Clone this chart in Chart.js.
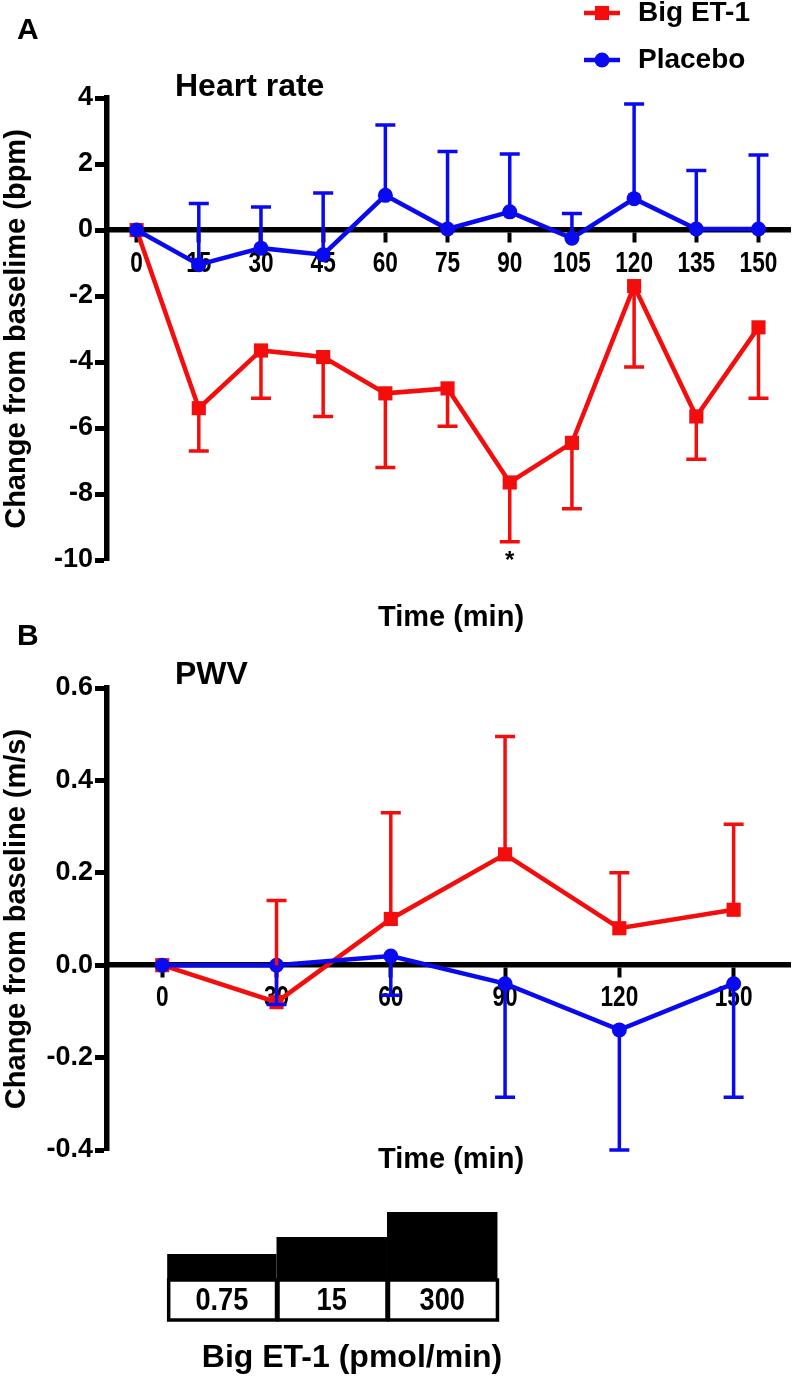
<!DOCTYPE html>
<html>
<head>
<meta charset="utf-8">
<script src="https://cdn.jsdelivr.net/npm/chart.js@4.4.1/dist/chart.umd.min.js"></script>
<style>
  body { margin: 0; background: #fff; }
  #wrap { position: relative; width: 800px; height: 1376px; }
  #wrap canvas { position: absolute; left: 0; }
</style>
</head>
<body>
<div id="wrap">
  <canvas id="hrChart" width="800" height="650" style="top:0"></canvas>
  <canvas id="pwvChart" width="800" height="751" style="top:625px"></canvas>
</div>
<script>
// Panel A - heart rate, every 15 min
const hrTimes = [0, 15, 30, 45, 60, 75, 90, 105, 120, 135, 150];
const hrBigEt1 = [0, -5.4, -3.65, -3.85, -4.95, -4.8, -7.65, -6.45, -1.7, -5.65, -2.95];
const hrBigEt1Err = [0, 1.3, 1.45, 1.8, 2.25, 1.15, 1.8, 2.0, 2.45, 1.3, 2.15];   // drawn downwards
const hrPlacebo = [0, -1.05, -0.55, -0.75, 1.05, 0.03, 0.55, -0.25, 0.95, 0.03, 0.03];
const hrPlaceboErr = [0, 1.85, 1.25, 1.87, 2.13, 2.35, 1.75, 0.75, 2.87, 1.77, 2.24]; // drawn upwards
const hrSignificant = [90];  // * under Big ET-1
const hrYTicks = [-10, -8, -6, -4, -2, 0, 2, 4];

// Panel B - PWV, every 30 min
const pwvTimes = [0, 30, 60, 90, 120, 150];
const pwvBigEt1 = [0, -0.08, 0.10, 0.24, 0.08, 0.12];
const pwvBigEt1Err = [0, 0.22, 0.23, 0.255, 0.12, 0.185];  // drawn upwards
const pwvPlacebo = [0, 0, 0.02, -0.04, -0.14, -0.04];
const pwvPlaceboErr = [0, 0.085, 0.085, 0.246, 0.26, 0.246]; // drawn downwards
const pwvYTicks = [-0.4, -0.2, 0, 0.2, 0.4, 0.6];

// infusion steps (Big ET-1 pmol/min)
const doseLabels = ["0.75", "15", "300"];
const doseStart = [1.3, 30, 59];
const doseEnd = [30, 59, 88];

const RED = "#f40d0d";
const BLUE = "#0a0af0";
const FONT = "'Liberation Sans', Arial, Helvetica, sans-serif";

Chart.defaults.font.family = FONT;
Chart.defaults.color = "#000";

function toPoints(times, values) {
    return times.map((t, i) => ({ x: t, y: values[i] }));
}

// one-sided SEM bars with a flat cap
const errorBars = {
    id: "errorBars",
    afterDatasetsDraw(chart) {
        const ctx = chart.ctx;
        const yScale = chart.scales.y;
        chart.data.datasets.forEach((ds, i) => {
            const meta = chart.getDatasetMeta(i);
            ctx.save();
            ctx.strokeStyle = ds.borderColor;
            ctx.lineWidth = 3.5;
            meta.data.forEach((pt, j) => {
                const err = ds.errors[j];
                if (!err) return;
                const end = yScale.getPixelForValue(ds.data[j].y + ds.errDir * err);
                ctx.beginPath();
                ctx.moveTo(pt.x, pt.y);
                ctx.lineTo(pt.x, end);
                ctx.moveTo(pt.x - 10, end);
                ctx.lineTo(pt.x + 10, end);
                ctx.stroke();
                if (ds.sig && ds.sig.includes(ds.data[j].x)) {
                    ctx.fillStyle = "#000";
                    ctx.font = "bold 24px " + FONT;
                    ctx.textAlign = "center";
                    ctx.textBaseline = "top";
                    ctx.fillText("*", pt.x, end + 8);
                }
            });
            ctx.restore();
        });
    }
};

// time tick labels under the zero line, a little condensed like the original
const squeezedTicks = {
    id: "squeezedTicks",
    beforeDatasetsDraw(chart, args, opts) {
        const ctx = chart.ctx;
        const xs = chart.scales.x;
        const y0 = chart.scales.y.getPixelForValue(0) + opts.offset;
        ctx.save();
        ctx.fillStyle = "#000";
        ctx.font = "bold " + opts.size + "px " + FONT;
        ctx.textAlign = "center";
        ctx.textBaseline = "middle";
        xs.ticks.forEach(t => {
            ctx.save();
            ctx.translate(xs.getPixelForValue(t.value), y0);
            ctx.scale(opts.squeeze, 1);
            ctx.fillText(String(t.value), 0, 0);
            ctx.restore();
        });
        ctx.restore();
    }
};

// free text: panel letters, titles, axis names
const panelText = {
    id: "panelText",
    afterDraw(chart, args, opts) {
        const ctx = chart.ctx;
        (opts.items || []).forEach(item => {
            ctx.save();
            ctx.fillStyle = "#000";
            ctx.font = "bold " + item.size + "px " + FONT;
            ctx.textAlign = item.align || "left";
            ctx.textBaseline = "middle";
            ctx.fillText(item.text, item.x, item.y);
            ctx.restore();
        });
    }
};

// stacked legend in the top right corner
const stackLegend = {
    id: "stackLegend",
    afterDraw(chart, args, opts) {
        if (!opts.show) return;
        const ctx = chart.ctx;
        chart.data.datasets.forEach((ds, i) => {
            const y = opts.y + i * opts.gap;
            ctx.save();
            ctx.strokeStyle = ds.borderColor;
            ctx.fillStyle = ds.borderColor;
            ctx.lineWidth = 4.5;
            ctx.beginPath();
            ctx.moveTo(opts.x, y);
            ctx.lineTo(opts.x + 36, y);
            ctx.stroke();
            Chart.helpers.drawPoint(ctx, { pointStyle: ds.pointStyle, radius: ds.pointRadius, rotation: 0, borderWidth: 0 }, opts.x + 18, y);
            ctx.fillStyle = "#000";
            ctx.font = "bold 28px " + FONT;
            ctx.textBaseline = "middle";
            ctx.fillText(ds.label, opts.x + 54, y);
            ctx.restore();
        });
    }
};

// dose staircase under panel B, placed with the time axis
const doseSteps = {
    id: "doseSteps",
    afterDraw(chart, args, opts) {
        if (!opts.show) return;
        const ctx = chart.ctx;
        const x = chart.scales.x;
        ctx.save();
        doseLabels.forEach((lab, i) => {
            const x0 = x.getPixelForValue(doseStart[i]);
            const x1 = x.getPixelForValue(doseEnd[i]);
            ctx.fillStyle = "#000";
            ctx.fillRect(x0, opts.base - opts.heights[i], x1 - x0, opts.heights[i]);
            ctx.lineWidth = 3.5;
            ctx.strokeStyle = "#000";
            ctx.strokeRect(x0 + 1.5, opts.base, x1 - x0 - 1.5, opts.boxH);
            ctx.save();
            ctx.translate((x0 + x1) / 2, opts.base + opts.boxH / 2 + 1);
            ctx.scale(0.85, 1);
            ctx.font = "bold 32px " + FONT;
            ctx.textAlign = "center";
            ctx.textBaseline = "middle";
            ctx.fillText(lab, 0, 0);
            ctx.restore();
        });
        ctx.restore();
    }
};

function makeConfig(p) {
    return {
        type: "line",
        data: {
            datasets: [
                {
                    label: "Big ET-1",
                    data: toPoints(p.times, p.et1),
                    errors: p.et1Err,
                    errDir: p.et1Dir,
                    sig: p.sig,
                    borderColor: RED,
                    backgroundColor: RED,
                    pointBackgroundColor: RED,
                    pointStyle: "rect",
                    pointRadius: 10,
                    pointBorderWidth: 0,
                    borderWidth: 4.5,
                    tension: 0,
                    order: 2,
                },
                {
                    label: "Placebo",
                    data: toPoints(p.times, p.plac),
                    errors: p.placErr,
                    errDir: p.placDir,
                    borderColor: BLUE,
                    backgroundColor: BLUE,
                    pointBackgroundColor: BLUE,
                    pointStyle: "circle",
                    pointRadius: 7.5,
                    pointBorderWidth: 0,
                    borderWidth: 4.5,
                    tension: 0,
                    order: 1,
                },
            ],
        },
        options: {
            responsive: false,
            animation: false,
            events: [],
            layout: { padding: p.padding },
            scales: {
                x: {
                    type: "linear",
                    position: { y: 0 },
                    min: p.xMin,
                    max: p.xMax,
                    afterBuildTicks: s => { s.ticks = p.times.map(v => ({ value: v })); },
                    border: { display: true, color: "#000", width: 5.5 },
                    grid: { drawOnChartArea: false, drawTicks: true, tickLength: 10, tickWidth: 4, tickColor: "#000" },
                    ticks: { display: false },
                },
                y: {
                    min: p.yTicks[0],
                    max: p.yTicks[p.yTicks.length - 1],
                    afterBuildTicks: s => { s.ticks = p.yTicks.map(v => ({ value: v })); },
                    afterFit: s => { s.width = 107; },
                    border: { display: true, color: "#000", width: 5.5 },
                    grid: { drawOnChartArea: false, drawTicks: true, tickLength: 12, tickWidth: 5, tickColor: "#000" },
                    ticks: { font: { size: 27, weight: "bold" }, color: "#000", padding: 2, callback: p.fmt },
                    title: { display: true, text: p.yTitle, font: { size: 29, weight: "bold" }, color: "#000", padding: 0 },
                },
            },
            plugins: {
                legend: { display: false },
                tooltip: { enabled: false },
                squeezedTicks: { size: 29, squeeze: 0.78, offset: p.tickOffset },
                panelText: { items: p.text },
                stackLegend: p.legend,
                doseSteps: p.doses,
            },
        },
        plugins: [squeezedTicks, errorBars, panelText, stackLegend, doseSteps],
    };
}

new Chart(document.getElementById("hrChart"), makeConfig({
    times: hrTimes,
    et1: hrBigEt1, et1Err: hrBigEt1Err, et1Dir: -1,
    plac: hrPlacebo, placErr: hrPlaceboErr, placDir: 1,
    sig: hrSignificant,
    yTicks: hrYTicks,
    fmt: v => String(v),
    xMin: -7.14, xMax: 157.6,
    tickOffset: 34,
    padding: { top: 98, bottom: 90, left: 0, right: 1 },
    yTitle: "Change from baselime (bpm)",
    text: [
        { text: "A", x: 17, y: 31, size: 30 },
        { text: "Heart rate", x: 175, y: 87, size: 32 },
        { text: "Time (min)", x: 451, y: 618, size: 29, align: "center" },
    ],
    legend: { show: true, x: 584, y: 13, gap: 47 },
    doses: { show: false },
}));

new Chart(document.getElementById("pwvChart"), makeConfig({
    times: pwvTimes,
    et1: pwvBigEt1, et1Err: pwvBigEt1Err, et1Dir: 1,
    plac: pwvPlacebo, placErr: pwvPlaceboErr, placDir: -1,
    sig: [],
    yTicks: pwvYTicks,
    fmt: v => v.toFixed(1),
    xMin: -14.5, xMax: 164.8,
    tickOffset: 33,
    padding: { top: 63, bottom: 226, left: 0, right: 1 },
    yTitle: "Change from baseline (m/s)",
    text: [
        { text: "B", x: 17, y: 12, size: 30 },
        { text: "PWV", x: 175, y: 50, size: 32 },
        { text: "Time (min)", x: 451, y: 535, size: 29, align: "center" },
        { text: "Big ET-1 (pmol/min)", x: 352, y: 733, size: 32, align: "center" },
    ],
    legend: { show: false },
    doses: { show: true, base: 655, boxH: 40, heights: [26, 43, 68] },
}));
</script>
</body>
</html>
